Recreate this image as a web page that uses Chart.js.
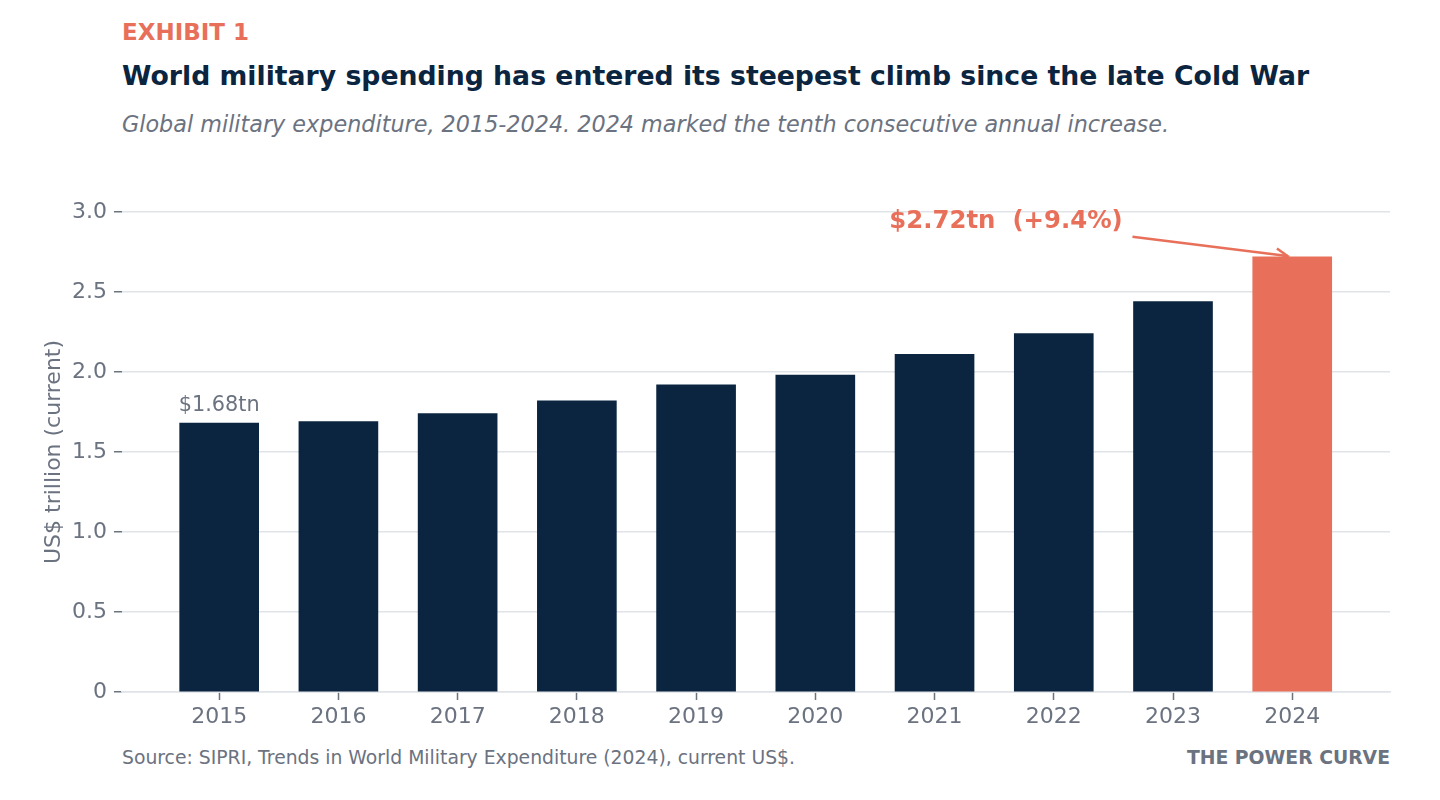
<!DOCTYPE html>
<html>
<head>
<meta charset="utf-8">
<script src="https://cdn.jsdelivr.net/npm/chart.js@4.4.1/dist/chart.umd.min.js"></script>
<style>
  html, body { margin: 0; padding: 0; background: #fff; }
  body { width: 1440px; height: 800px; position: relative; overflow: hidden; font-family: "DejaVu Sans", sans-serif; }
  .txt { position: absolute; white-space: nowrap; line-height: 1.2; }
  #exhibit { left: 122px; top: 19px; font-size: 23px; font-weight: bold; color: #e8705a; }
  #title { left: 122px; top: 60px; font-size: 26.7px; font-weight: bold; color: #0b2540; }
  #subtitle { left: 122px; top: 110.5px; font-size: 22.3px; font-style: italic; color: #6b7280; }
  #source { left: 122px; top: 746.5px; font-size: 18.8px; color: #6b7280; }
  #brand { right: 50px; top: 746.5px; font-size: 18.8px; font-weight: bold; color: #6b7280; }
  #wrap { position: absolute; left: 0; top: 0; width: 1440px; height: 800px; }
</style>
</head>
<body>
<div class="txt" id="exhibit">EXHIBIT 1</div>
<div class="txt" id="title">World military spending has entered its steepest climb since the late Cold War</div>
<div class="txt" id="subtitle">Global military expenditure, 2015-2024. 2024 marked the tenth consecutive annual increase.</div>
<div class="txt" id="source">Source: SIPRI, Trends in World Military Expenditure (2024), current US$.</div>
<div class="txt" id="brand">THE POWER CURVE</div>
<div id="wrap"><canvas id="chart" width="1440" height="800"></canvas></div>
<script>
// values, US$ trillion
const years = ['2015', '2016', '2017', '2018', '2019', '2020', '2021', '2022', '2023', '2024'];
const spending = [1.68, 1.69, 1.74, 1.82, 1.92, 1.98, 2.11, 2.24, 2.44, 2.72];
const yTickValues = [0, 0.5, 1.0, 1.5, 2.0, 2.5, 3.0];
const yTickLabels = ['0', '0.5', '1.0', '1.5', '2.0', '2.5', '3.0'];
const firstLabel = '$1.68tn';
const lastLabel = '$2.72tn  (+9.4%)';

const NAVY = '#0b2540';
const CORAL = '#e8705a';
const GREY = '#6b7280';
const GRID = '#e0e3e7';
const FONT = '"DejaVu Sans", sans-serif';

const annotate = {
  id: 'annotate',
  afterDatasetsDraw(chart) {
    const ctx = chart.ctx;
    const xs = chart.scales.x, ys = chart.scales.y;
    ctx.save();
    // first bar value label
    ctx.font = '20.8px ' + FONT;
    ctx.fillStyle = GREY;
    ctx.textAlign = 'center';
    ctx.textBaseline = 'bottom';
    ctx.fillText(firstLabel, xs.getPixelForValue(0), ys.getPixelForValue(spending[0]) - 7);

    // callout for the last year
    const last = spending.length - 1;
    ctx.font = 'bold 24.4px ' + FONT;
    ctx.fillStyle = CORAL;
    ctx.textAlign = 'left';
    ctx.textBaseline = 'middle';
    ctx.fillText(lastLabel, xs.getPixelForValue(5.62), ys.getPixelForValue(2.94));

    const x0 = xs.getPixelForValue(7.66), y0 = ys.getPixelForValue(2.845);
    const x1 = xs.getPixelForValue(last - 0.04), y1 = ys.getPixelForValue(spending[last] + 0.005);
    ctx.strokeStyle = CORAL;
    ctx.fillStyle = CORAL;
    ctx.lineWidth = 2.5;
    ctx.lineJoin = 'miter';
    ctx.beginPath();
    ctx.moveTo(x0, y0);
    ctx.lineTo(x1, y1);
    ctx.stroke();
    const a = Math.atan2(y1 - y0, x1 - x0);
    const h = 13;
    ctx.beginPath();
    ctx.moveTo(x1 - h * Math.cos(a - 0.5), y1 - h * Math.sin(a - 0.5));
    ctx.lineTo(x1, y1);
    ctx.lineTo(x1 - h * Math.cos(a + 0.5), y1 - h * Math.sin(a + 0.5));
    ctx.stroke();
    ctx.restore();
  }
};

new Chart(document.getElementById('chart'), {
  type: 'bar',
  data: {
    datasets: [{
      data: spending.map((v, i) => ({ x: i, y: v })),
      backgroundColor: spending.map((v, i) => i === spending.length - 1 ? CORAL : NAVY),
      barThickness: 79
    }]
  },
  options: {
    responsive: false,
    animation: false,
    layout: { padding: { left: 0, right: 50, top: 212, bottom: 0 } },
    plugins: { legend: { display: false }, tooltip: { enabled: false } },
    scales: {
      x: {
        type: 'linear',
        offset: false,
        min: -0.815,
        max: 9.82,
        afterBuildTicks: s => { s.ticks = years.map((y, i) => ({ value: i })); },
        afterFit: s => { s.height = 108; },
        ticks: {
          callback: v => years[v],
          color: GREY,
          font: { family: FONT, size: 22 },
          padding: 4,
          maxRotation: 0
        },
        grid: { offset: false, drawOnChartArea: false, drawTicks: true, tickLength: 8, tickColor: GREY, tickWidth: 1.5 },
        border: { display: true, color: GRID, width: 1.5 }
      },
      y: {
        min: 0,
        max: 3,
        afterBuildTicks: s => { s.ticks = yTickValues.map(v => ({ value: v })); },
        afterFit: s => { s.width = 122; },
        ticks: {
          callback: (v, i) => yTickLabels[i],
          color: GREY,
          font: { family: FONT, size: 22 },
          padding: 7
        },
        grid: { color: GRID, lineWidth: 1.5, tickLength: 8, tickColor: GREY, tickWidth: 1.5 },
        border: { display: false },
        title: {
          display: true,
          text: 'US$ trillion (current)',
          color: GREY,
          font: { family: FONT, size: 22 },
          padding: { top: 41, bottom: 0 }
        }
      }
    }
  },
  plugins: [annotate]
});
</script>
</body>
</html>
